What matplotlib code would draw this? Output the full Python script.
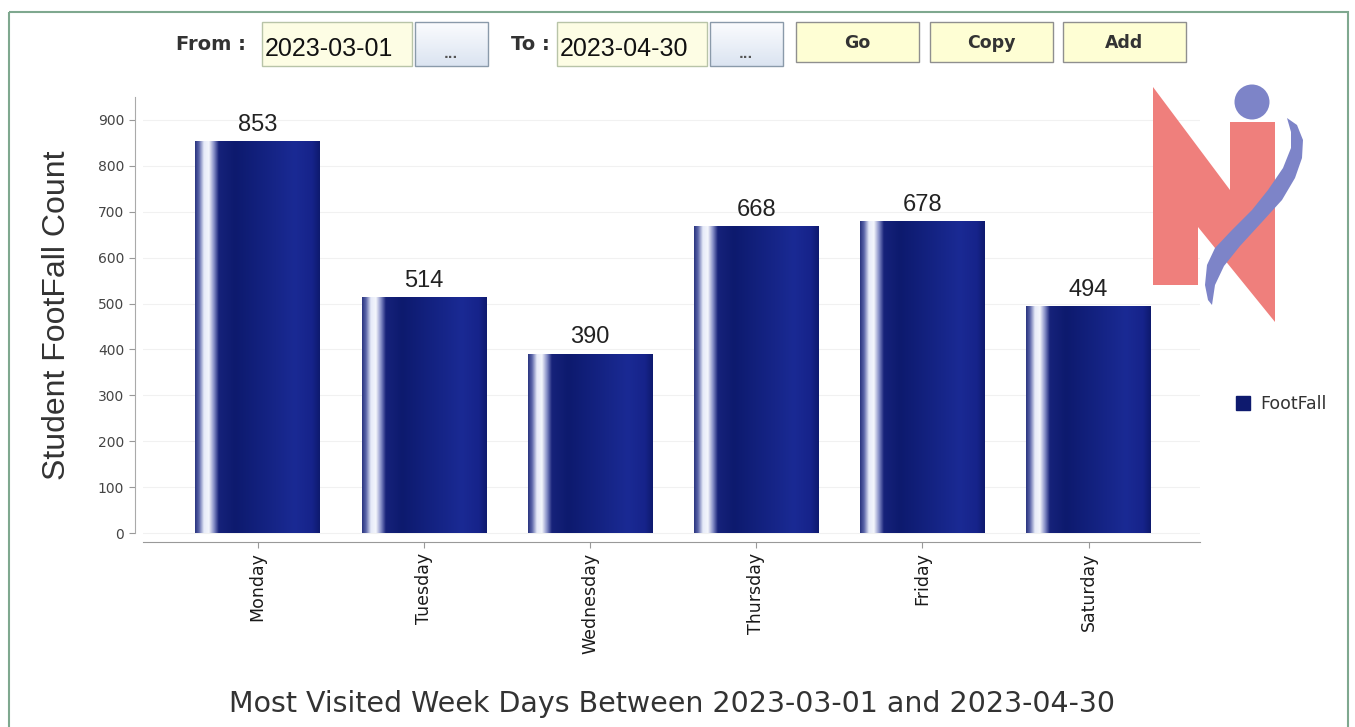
import numpy as np
import matplotlib.pyplot as plt
from matplotlib.colors import LinearSegmentedColormap
from matplotlib.patches import Rectangle, Polygon, Circle, Patch

days = ['Monday', 'Tuesday', 'Wednesday', 'Thursday', 'Friday', 'Saturday']
footfall = [853, 514, 390, 668, 678, 494]
yticks = [0, 100, 200, 300, 400, 500, 600, 700, 800, 900]
date_from = '2023-03-01'
date_to = '2023-04-30'

W, H = 1355, 727
fig = plt.figure(figsize=(W / 100, H / 100), dpi=100)
fig.patch.set_facecolor('white')

# main chart area
ax = fig.add_axes([143 / W, 1 - 542 / H, (1200 - 143) / W, (542 - 97) / H])
ax.set_xlim(-0.69, 5.67)
ax.set_ylim(-19.6, 950)

bars = ax.bar(range(len(days)), footfall, width=0.75, color='none', zorder=2)

# gradient like the original java chart
stops = [(0.0, '#2a3580'), (0.03, '#5a64a8'), (0.07, '#e6eaf8'), (0.11, '#f4f6fc'),
         (0.15, '#8890c8'), (0.19, '#16227a'), (0.32, '#0d1a6e'), (0.80, '#1a2a94'),
         (0.94, '#16238a'), (1.0, '#0e1a6e')]
cmap = LinearSegmentedColormap.from_list('barg', stops)
grad = np.linspace(0, 1, 256).reshape(1, -1)
for b in bars:
    x0, w, h = b.get_x(), b.get_width(), b.get_height()
    ax.imshow(grad, cmap=cmap, aspect='auto', extent=[x0, x0 + w, 0, h],
              zorder=2, interpolation='bilinear')
    ax.text(x0 + w / 2, h + 23, str(int(h)), ha='center', va='baseline',
            fontsize=17, color='#222222', family='Liberation Sans')

ax.set_xticks(range(len(days)))
ax.set_xticklabels(days, rotation=90, fontsize=12.5)
ax.set_yticks(yticks)
ax.set_yticklabels([str(v) for v in yticks], fontsize=10.5)
ax.tick_params(axis='both', colors='#999999', length=4, width=0.8)
ax.tick_params(axis='x', labelcolor='#1a1a1a')
ax.tick_params(axis='y', labelcolor='#444444')
ax.yaxis.grid(True, color='#f1f1f1', linewidth=0.8)
ax.set_axisbelow(True)
for s in ['top', 'right']:
    ax.spines[s].set_visible(False)
ax.spines['left'].set_position(('outward', 6))
ax.spines['left'].set_bounds(0, 950)
ax.spines['left'].set_color('#aaaaaa')
ax.spines['bottom'].set_color('#999999')
ax.set_ylabel('Student FootFall Count', fontsize=23, color='#333333',
              family='Liberation Sans')
ax.yaxis.set_label_coords(72 / W, 1 - 315 / H, transform=fig.transFigure)

fig.text(672 / W, 1 - 704 / H, 'Most Visited Week Days Between %s and %s' % (date_from, date_to),
         ha='center', va='center', fontsize=20.5, color='#333333')

fig.legend(handles=[Patch(color='#0e1a6e', label='FootFall')], loc='center left',
           bbox_to_anchor=(1220 / W, 1 - 404 / H), frameon=False, fontsize=12.5,
           handlelength=0.8, handleheight=0.8, handletextpad=0.6, labelcolor='#333333')

# overlay in pixel coordinates for the page widgets and logo
ov = fig.add_axes([0, 0, 1, 1], zorder=5)
ov.set_xlim(0, W)
ov.set_ylim(H, 0)
ov.axis('off')
ov.patch.set_alpha(0)

ov.add_patch(Rectangle((9, 12), 1339, 720, fill=False, edgecolor='#7fa88f', linewidth=1.5))

ov.text(246, 44, 'From :', ha='right', va='center', fontsize=14, weight='bold', color='#333333')
ov.text(550, 44, 'To :', ha='right', va='center', fontsize=14, weight='bold', color='#333333')
for x0, txt in [(262, date_from), (557, date_to)]:
    ov.add_patch(Rectangle((x0, 22), 150, 44, facecolor='#fdfde4', edgecolor='#b8c4a8', linewidth=1))
    ov.text(x0 + 3, 49, txt, ha='left', va='center', fontsize=18, color='#111111',
            family='Liberation Sans')
vgrad = np.linspace(0, 1, 64).reshape(-1, 1)
bcmap = LinearSegmentedColormap.from_list('btn', ['#fbfcfe', '#dbe4f1'])
for x0 in [415, 710]:
    ov.imshow(vgrad, cmap=bcmap, aspect='auto', extent=[x0, x0 + 73, 66, 22], zorder=1)
    ov.add_patch(Rectangle((x0, 22), 73, 44, fill=False, edgecolor='#8a9aaa', linewidth=1, zorder=2))
    ov.text(x0 + 36, 54, '...', ha='center', va='center', fontsize=9, weight='bold',
            color='#555555', zorder=3)
for x0, txt in [(796, 'Go'), (930, 'Copy'), (1063, 'Add')]:
    ov.add_patch(Rectangle((x0, 22), 123, 40, facecolor='#fefed4', edgecolor='#8f8f8f', linewidth=1))
    ov.text(x0 + 61, 43, txt, ha='center', va='center', fontsize=12.5, weight='bold', color='#333333')

# logo
ov.add_patch(Polygon([(1153, 285), (1153, 87), (1230, 190), (1230, 122), (1275, 122),
                      (1275, 322), (1198, 227), (1198, 285)], closed=True,
                     facecolor='#ef7f7c', edgecolor='none'))
ov.add_patch(Circle((1252, 102), 17.5, facecolor='#7d84c8', edgecolor='none'))
swoosh = [(1287, 118), (1297, 125), (1303, 140), (1302, 158), (1295, 178), (1282, 200),
          (1262, 222), (1240, 246), (1224, 266), (1215, 285), (1212, 305),
          (1208, 300), (1205, 285), (1207, 265), (1215, 248), (1232, 230), (1252, 210),
          (1268, 190), (1283, 168), (1291, 148), (1291, 132)]
ov.add_patch(Polygon(swoosh, closed=True, facecolor='#7d84c8', edgecolor='none'))

fig.savefig('out.png', dpi=100)
